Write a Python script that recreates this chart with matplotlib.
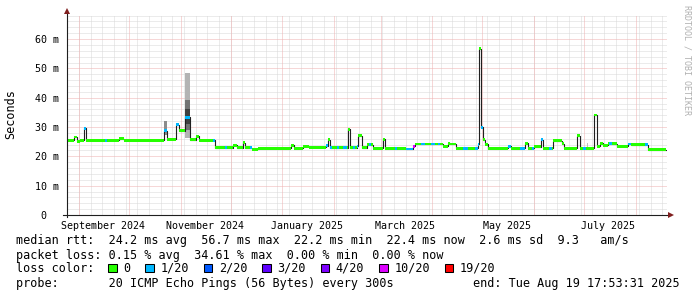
import datetime as dt
import numpy as np
import matplotlib
matplotlib.use("Agg")
import matplotlib.pyplot as plt
import matplotlib.dates as mdates
from matplotlib.patches import Rectangle

plt.rcParams['font.family'] = ['DejaVu Sans Mono', 'DejaVu Sans']

# ---------------- data ----------------
END = dt.datetime(2025, 8, 19, 17, 53, 31)
START = END - dt.timedelta(days=360)

# median rtt as steps: start (days since START), value (ms), loss class index
step_day = [0.0, 4.2, 6.0, 7.8, 10.4, 11.6, 22.6, 23.8, 31.2, 34.0,
            58.2, 59.8, 65.4, 66.9, 70.8, 73.8, 77.1, 79.0, 87.4, 88.6,
            94.8, 96.2, 99.8, 101.8, 105.8, 106.8, 109.8, 110.8, 114.8, 134.4,
            136.0, 141.6, 145.4, 155.4, 156.4, 157.8, 159.2, 161.8, 163.2, 165.8,
            167.8, 168.8, 169.8, 171.8, 172.8, 173.8, 174.8, 176.8, 179.8, 181.2,
            182.4, 183.8, 189.6, 190.6, 197.0, 198.2, 203.4, 207.6, 208.6, 212.6,
            214.6, 218.6, 220.6, 222.6, 223.6, 225.6, 228.6, 229.6, 233.4, 237.6,
            240.6, 244.6, 246.6, 247.2, 248.6, 249.6, 251.0, 252.6, 264.6, 266.6,
            271.6, 274.8, 276.8, 278.8, 280.2, 284.4, 285.8, 289.4, 290.8, 291.8,
            296.8, 298.2, 306.2, 307.8, 309.6, 311.4, 316.2, 317.8, 319.8, 321.8,
            324.8, 325.4, 326.8, 329.8, 336.8, 338.4, 346.8, 348.8]
step_ms = [25.5, 26.6, 25.2, 25.5, 29.5, 25.5, 25.5, 25.5, 26.0, 25.5,
           28.8, 25.8, 30.8, 28.8, 33.3, 25.6, 26.8, 25.5, 25.5, 22.9,
           22.9, 22.9, 23.8, 23.0, 24.7, 22.9, 22.9, 22.4, 22.7, 23.8,
           22.8, 23.4, 23.1, 23.6, 25.6, 22.9, 22.9, 22.9, 22.9, 22.9,
           22.9, 29.3, 22.9, 22.9, 22.9, 23.5, 27.0, 22.9, 23.9, 23.9,
           23.9, 22.8, 25.9, 22.8, 22.8, 22.8, 22.5, 23.5, 24.2, 24.2,
           24.2, 24.2, 24.2, 24.2, 24.2, 23.5, 24.5, 24.2, 22.8, 22.8,
           22.8, 22.8, 24.1, 56.7, 29.9, 25.6, 24.1, 22.8, 23.5, 22.8,
           22.8, 24.4, 22.8, 22.8, 23.2, 25.6, 22.8, 22.8, 22.8, 25.3,
           24.3, 22.8, 27.0, 22.8, 22.8, 22.8, 34.1, 23.5, 24.4, 23.8,
           24.3, 24.3, 24.3, 23.5, 24.2, 24.0, 24.0, 22.3]
step_loss = [0, 0, 0, 0, 1, 0, 1, 0, 0, 0,
             1, 0, 1, 0, 1, 0, 0, 0, 1, 0,
             1, 0, 0, 0, 0, 0, 1, 0, 0, 0,
             0, 0, 0, 1, 0, 1, 0, 1, 0, 1,
             0, 0, 0, 1, 0, 1, 0, 0, 0, 1,
             0, 0, 0, 0, 1, 0, 1, 5, 0, 1,
             0, 1, 0, 1, 0, 0, 0, 0, 0, 1,
             0, 1, 1, 0, 1, 0, 0, 0, 1, 0,
             1, 0, 0, 1, 0, 1, 0, 1, 0, 0,
             0, 0, 0, 0, 1, 0, 0, 0, 0, 0,
             0, 1, 0, 0, 1, 0, 1, 0]
last_day = 359.4

# smoke (spread of the individual pings)
smoke_day0 = [58.2, 70.8, 70.8, 70.8, 311.8]
smoke_day1 = [59.8, 73.8, 73.8, 73.8, 312.8]
smoke_lo = [27.3, 26.3, 29.0, 31.0, 23.3]
smoke_hi = [32.0, 48.4, 39.3, 36.0, 24.6]
smoke_density = [0.45, 0.30, 0.55, 0.75, 0.25]

loss_labels = ["0", "1/20", "2/20", "3/20", "4/20", "10/20", "19/20"]
loss_colors = ["#26ff00", "#00b8ff", "#0059ff", "#5e00ff", "#7e00ff", "#dd00ff", "#ff0000"]

ytick_vals = [0, 10, 20, 30, 40, 50, 60]
ytick_labels = [" 0", "10 m", "20 m", "30 m", "40 m", "50 m", "60 m"]
xlabel_months = [(2024, 9), (2024, 11), (2025, 1), (2025, 3), (2025, 5), (2025, 7)]

stats_rtt = "median rtt:  24.2 ms avg  56.7 ms max  22.2 ms min  22.4 ms now  2.6 ms sd  9.3   am/s"
stats_loss = "packet loss: 0.15 % avg  34.61 % max  0.00 % min  0.00 % now"
probe_text = "probe:       20 ICMP Echo Pings (56 Bytes) every 300s"

# ---------------- figure ----------------
W, H = 697, 297
fig = plt.figure(figsize=(W / 100, H / 100), dpi=100)
fig.patch.set_facecolor('white')
L, R, B, T = 67, 667, 215, 15
ax = fig.add_axes([L / W, 1 - B / H, (R - L) / W, (B - T) / H])
ax.set_facecolor('white')
x0 = mdates.date2num(START)
x1 = mdates.date2num(END)
ax.set_xlim(x0, x1)
ax.set_ylim(0, 68.2)
for s in ax.spines.values():
    s.set_visible(False)

minor_c = '#d8d8d8'
major_c = '#efb0b0'
dot = (0, (1, 1))
gkw = dict(lw=0.72, ls=dot)
for v in np.arange(2, 68.3, 2):
    if int(round(v)) % 10:
        ax.axhline(v, color=minor_c, zorder=0, **gkw)
weeks = mdates.WeekdayLocator(byweekday=mdates.SU).tick_values(START, END)
months = mdates.MonthLocator(bymonthday=1).tick_values(START, END)
for w in weeks:
    if x0 < w < x1:
        ax.axvline(w, color=minor_c, zorder=0, **gkw)
for v in ytick_vals[1:]:
    ax.axhline(v, color=major_c, zorder=0.5, **gkw)
for m in months:
    if x0 < m < x1:
        ax.axvline(m, color=major_c, zorder=0.5, **gkw)

# smoke
for a, b, lo, hi, dens in zip(smoke_day0, smoke_day1, smoke_lo, smoke_hi, smoke_density):
    g = 1 - dens
    ax.fill_between([x0 + a, x0 + b], [lo, lo], [hi, hi], color=(g, g, g), lw=0, zorder=2)

# median line
xs = x0 + np.array(step_day + [last_day])
ys = np.array(step_ms + [step_ms[-1]])
ax.step(xs, ys, where='post', color='#202020', lw=0.8, zorder=3)
hw = 0.5
for i in range(len(step_day)):
    c = loss_colors[step_loss[i]]
    ax.fill_between([xs[i], xs[i + 1]], [ys[i] - hw] * 2, [ys[i] + hw] * 2,
                    color=c, lw=0, zorder=4)

# axes lines and arrows
axis_c = '#1f1f1f'
arrow_c = '#801f1f'
ax.plot([0, 0], [-2 / 200, 1 + 5 / 200], transform=ax.transAxes, color=axis_c,
        lw=0.8, clip_on=False, zorder=6)
ax.plot([-4 / 600, 1 + 4 / 600], [0, 0], transform=ax.transAxes, color=axis_c,
        lw=0.8, clip_on=False, zorder=6)
ax.plot([0], [1 + 4 / 200], marker='^', ms=4, color=arrow_c, transform=ax.transAxes,
        clip_on=False, zorder=7, mew=0)
ax.plot([1 + 4 / 600], [0], marker='>', ms=4, color=arrow_c, transform=ax.transAxes,
        clip_on=False, zorder=7, mew=0)

# ticks
xt_dates = [dt.datetime(y, m, 1) for y, m in xlabel_months]
xt_pos = [mdates.date2num(d) + 14.5 for d in xt_dates]
ax.set_xticks(xt_pos, [d.strftime('%B %Y') for d in xt_dates])
ax.tick_params(axis='x', length=0, pad=4, labelsize=7.2, colors='black')
ax.set_yticks(ytick_vals, ytick_labels)
ax.tick_params(axis='y', length=0, pad=23, labelsize=7.2, colors='black')
for t in ax.get_yticklabels():
    t.set_horizontalalignment('left')

# side texts
fig.text(10.5 / W, 1 - 114 / H, 'Seconds', rotation=90, ha='center', va='center', fontsize=8.5)
fig.text(687.5 / W, 1 - 5 / H, 'RRDTOOL / TOBI OETIKER', rotation=270, ha='center', va='top',
         fontsize=6, color='#b0b0b0')

# legend
fs = 8.5
fig.text(16 / W, 1 - 240.7 / H, stats_rtt, va='center', fontsize=fs)
fig.text(16 / W, 1 - 255 / H, stats_loss, va='center', fontsize=fs)
fig.text(16 / W, 1 - 268.3 / H, "loss color:", va='center', fontsize=fs)
cw = 7.12
bx = 108.3
for lab, col in zip(loss_labels, loss_colors):
    fig.patches.append(Rectangle((bx / W, 1 - 272.3 / H), 8.3 / W, 8.3 / H,
                                 transform=fig.transFigure, facecolor=col,
                                 edgecolor='black', lw=0.75))
    fig.text((bx + 15) / W, 1 - 268.3 / H, lab, va='center', fontsize=fs)
    bx += 30 + cw * len(lab)
fig.text(16 / W, 1 - 283.3 / H, probe_text, va='center', fontsize=fs)
fig.text(680 / W, 1 - 283.3 / H, END.strftime('end: %a %b %d %H:%M:%S %Y'),
         ha='right', va='center', fontsize=fs)

fig.savefig('out.png', dpi=100, facecolor='white')
